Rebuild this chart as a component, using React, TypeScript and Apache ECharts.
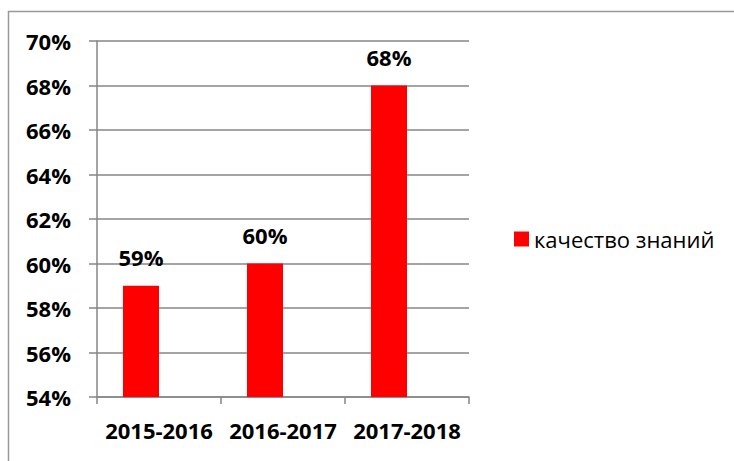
import React, { useEffect, useRef } from "react";
import * as echarts from "echarts";

const categories = ["2015-2016", "2016-2017", "2017-2018"];
const seriesName = "качество знаний";
const values = [59, 60, 68];
const emptyValues = [null, null, null];
const yMin = 54;
const yMax = 70;
const yStep = 2;

export default function App() {
  const ref = useRef<HTMLDivElement>(null);
  useEffect(() => {
    if (!ref.current) return;
    const chart = echarts.init(ref.current, null, { renderer: "svg" });
    const gray = "#868686";
    chart.setOption({
      animation: false,
      backgroundColor: "#ffffff",
      graphic: [
        {
          type: "rect",
          shape: { x: 8.5, y: 11.5, width: 800, height: 500 },
          style: { fill: "none", stroke: "#999999", lineWidth: 1.5 },
          silent: true,
        },
      ],
      grid: { left: 97, right: 265, top: 41, bottom: 64 },
      legend: {
        data: [seriesName],
        left: 509,
        top: 223,
        itemWidth: 15,
        itemHeight: 15,
        icon: "rect",
        textStyle: { fontFamily: "Open Sans", fontSize: 22, color: "#000" },
      },
      xAxis: {
        type: "category",
        data: categories,
        axisLine: { show: true, lineStyle: { color: gray, width: 1.5 } },
        axisTick: { show: true, length: 7, lineStyle: { color: gray, width: 1.5 } },
        axisLabel: {
          interval: 0,
          margin: 22,
          fontFamily: "Open Sans",
          fontWeight: "bold",
          fontSize: 22,
          color: "#000",
        },
      },
      yAxis: {
        type: "value",
        min: yMin,
        max: yMax,
        interval: yStep,
        axisLine: { show: true, lineStyle: { color: gray, width: 1.5 } },
        axisTick: { show: true, length: 8, lineStyle: { color: gray, width: 1.5 } },
        splitLine: { show: true, lineStyle: { color: gray, width: 1.5 } },
        axisLabel: {
          formatter: "{value}%",
          margin: 26,
          fontFamily: "Open Sans",
          fontWeight: "bold",
          fontSize: 22,
          color: "#000",
        },
      },
      series: [
        {
          name: seriesName,
          type: "bar",
          data: values,
          barWidth: 36,
          barGap: "0%",
          itemStyle: { color: "#ff0000" },
          label: {
            show: true,
            position: "top",
            distance: 18,
            formatter: "{c}%",
            fontFamily: "Open Sans",
            fontWeight: "bold",
            fontSize: 22,
            color: "#000",
          },
        },
        {
          name: "empty",
          type: "bar",
          data: emptyValues,
          barWidth: 36,
          barGap: "0%",
          itemStyle: { color: "transparent" },
        },
      ],
    });
    return () => chart.dispose();
  }, []);
  return (
    <div
      ref={ref}
      style={{ position: "absolute", left: 0, top: 0, width: 734, height: 461 }}
    />
  );
}
